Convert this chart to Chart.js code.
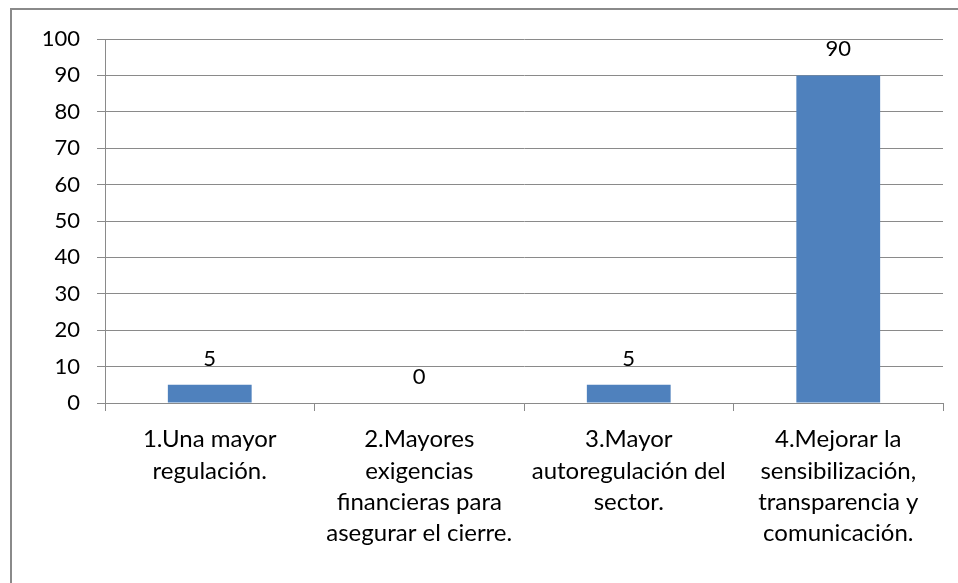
<!DOCTYPE html>
<html>
<head>
<meta charset="utf-8">
<script src="https://cdn.jsdelivr.net/npm/chart.js@4"></script>
<style>
  html, body { margin: 0; padding: 0; background: #fff; overflow: hidden; }
  #wrap { position: absolute; left: 0; top: 0; width: 958px; height: 583px; }
  #frame { position: absolute; left: 10px; top: 8px; width: 2000px; height: 2000px;
           border-left: 2px solid #8a8a8a; border-top: 2px solid #8a8a8a; pointer-events: none; }
</style>
</head>
<body>
<div id="wrap"><canvas id="chart" width="958" height="583"></canvas></div>
<div id="frame"></div>
<script>
// categories (multi-line, as wrapped in the original)
const categories = [
  ['1.Una mayor', 'regulación.'],
  ['2.Mayores', 'exigencias', 'financieras para', 'asegurar el cierre.'],
  ['3.Mayor', 'autoregulación del', 'sector.'],
  ['4.Mejorar la', 'sensibilización,', 'transparencia y', 'comunicación.']
];
const values = [5, 0, 5, 90];
const yMax = 100;
const yStep = 10;

const FONT = 'Lato, "Noto Sans", sans-serif';
const gray = '#8a8a8a';

// value labels above each bar
const valueLabels = {
  id: 'valueLabels',
  afterDatasetsDraw(chart) {
    const ctx = chart.ctx;
    const meta = chart.getDatasetMeta(0);
    ctx.save();
    ctx.font = '22px ' + FONT;
    ctx.fillStyle = '#000';
    ctx.textAlign = 'center';
    ctx.textBaseline = 'alphabetic';
    meta.data.forEach((bar, i) => {
      ctx.fillText(String(values[i]), bar.x, bar.y - 19);
    });
    ctx.restore();
  }
};

new Chart(document.getElementById('chart'), {
  type: 'bar',
  data: {
    labels: categories,
    datasets: [{
      data: values,
      backgroundColor: '#4F81BD',
      borderWidth: 0,
      barPercentage: 0.4,
      categoryPercentage: 1.0
    }]
  },
  options: {
    responsive: false,
    animation: false,
    layout: { padding: { top: 39, right: 15, left: 0, bottom: 0 } },
    plugins: {
      legend: { display: false },
      tooltip: { enabled: false }
    },
    scales: {
      y: {
        min: 0,
        max: yMax,
        ticks: { stepSize: yStep, color: '#000', font: { family: FONT, size: 22 }, padding: 17 },
        grid: { color: gray, lineWidth: 1, tickLength: 8 },
        border: { color: gray, width: 1 },
        afterFit(scale) { scale.width = 105; }
      },
      x: {
        ticks: { color: '#000', font: { family: FONT, size: 24, lineHeight: 1.3 }, padding: 13, maxRotation: 0, autoSkip: false },
        grid: { color: gray, lineWidth: 1, tickLength: 8, drawOnChartArea: false, offset: true },
        border: { color: gray, width: 1 },
        afterFit(scale) { scale.height = 180; }
      }
    }
  },
  plugins: [valueLabels]
});
</script>
</body>
</html>
